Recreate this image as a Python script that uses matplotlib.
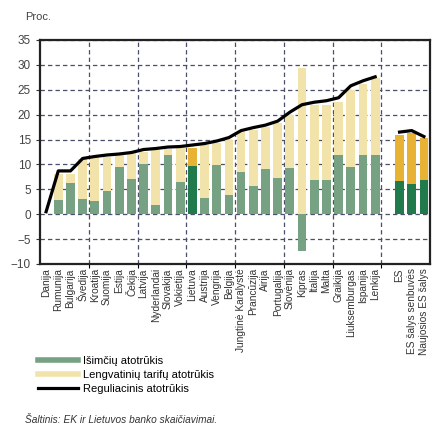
import numpy as np
import matplotlib
matplotlib.use('Agg')
from matplotlib import pyplot as plt
from matplotlib.lines import Line2D

plt.rcParams['font.family'] = ['Liberation Sans Narrow', 'Liberation Sans', 'DejaVu Sans']

# country data (proc.)
salys = ['Danija', 'Rumunija', 'Bulgarija', 'Švedija', 'Kroatija', 'Suomija', 'Estija',
         'Čekija', 'Latvija', 'Nyderlandai', 'Slovakija', 'Vokietija', 'Lietuva', 'Austrija',
         'Vengrija', 'Belgija', 'Jungtinė Karalystė', 'Prancūzija', 'Airija', 'Portugalija',
         'Slovėnija', 'Kipras', 'Italija', 'Malta', 'Graikija', 'Liuksemburgas', 'Ispanija',
         'Lenkija']
isimciu = [0.0, 2.8, 6.3, 3.1, 2.6, 4.7, 9.4, 7.1, 10.1, 1.9, 11.9, 6.5, 9.7, 3.3,
           9.9, 3.9, 8.4, 5.7, 9.1, 7.3, 9.3, -7.4, 6.8, 6.9, 11.9, 9.5, 11.9, 11.9]
lengvatiniu = [0.0, 5.2, 1.7, 7.9, 8.8, 6.8, 2.5, 5.1, 2.5, 11.0, 1.3, 6.8, 3.6, 10.7,
               4.5, 11.1, 8.1, 11.3, 8.4, 11.0, 10.7, 29.3, 15.2, 15.1, 10.7, 15.4, 14.2, 15.4]
reguliacinis = [0.5, 8.7, 8.7, 11.2, 11.6, 11.9, 12.1, 12.4, 13.0, 13.2, 13.5, 13.6, 13.9, 14.2,
                14.7, 15.4, 16.8, 17.4, 17.9, 18.7, 20.5, 22.0, 22.5, 22.8, 23.4, 25.8, 26.8, 27.6]

# EU aggregates
es_grupes = ['ES', 'ES šalys senbuvės', 'Naujosios ES šalys']
es_isimciu = [6.6, 6.1, 6.9]
es_lengvatiniu = [9.3, 10.2, 8.5]
es_reguliacinis = [16.5, 16.8, 15.6]

green = '#76a283'
yellow = '#f1e3a9'
dgreen = '#217a4c'
orange = '#e8b234'

fig = plt.figure(figsize=(4.33, 4.30), dpi=100)
ax = fig.add_axes([40/433, (430-264)/430, 390/433, 224/430])

x = np.arange(len(salys))
xe = np.arange(len(es_grupes)) + len(salys) + 1
w = 0.72

gcol = [dgreen if s == 'Lietuva' else green for s in salys]
ycol = [orange if s == 'Lietuva' else yellow for s in salys]
bot = [max(v, 0) for v in isimciu]
ax.bar(x, isimciu, w, color=gcol, zorder=2)
ax.bar(x, lengvatiniu, w, bottom=bot, color=ycol, zorder=2)
ax.plot(x, reguliacinis, color='black', lw=2.3, zorder=3)

ax.bar(xe, es_isimciu, w, color=dgreen, zorder=2)
ax.bar(xe, es_lengvatiniu, w, bottom=es_isimciu, color=orange, zorder=2)
ax.plot(xe, es_reguliacinis, color='black', lw=2.3, zorder=3)

ax.set_xlim(-0.5, 31.5)
ax.set_ylim(-10, 35)
ax.set_yticks(np.arange(-10, 36, 5))
ax.set_xticks(np.arange(3.5, 31, 4))
ax.set_xticklabels([])
ax.set_xticks(list(x) + list(xe), minor=True)
ax.set_xticklabels(salys + es_grupes, minor=True, rotation=90, fontsize=7.3, va='top',
                   color='#333333')
ax.tick_params(axis='x', which='minor', length=0, pad=3)
ax.tick_params(axis='x', which='major', length=3, direction='out')
ax.tick_params(axis='y', labelsize=8.5, length=3, color='#333333', labelcolor='#444444')
ax.grid(True, which='major', color='#4a4f6a', ls=(0, (3.5, 2.5)), lw=0.9, zorder=0)
for sp in ax.spines.values():
    sp.set_linewidth(1.6)
    sp.set_color('#222222')

fig.text(25/433, 1 - 17/430, 'Proc.', fontsize=8, color='#444444', va='center')

handles = [Line2D([], [], color=green, lw=4),
           Line2D([], [], color=yellow, lw=4),
           Line2D([], [], color='black', lw=2.3)]
labels = ['Išimčių atotrūkis', 'Lengvatinių tarifų atotrūkis', 'Reguliacinis atotrūkis']
fig.legend(handles, labels, loc='upper left', bbox_to_anchor=(38/433, 1 - 356/430),
           frameon=False, fontsize=8, handlelength=3.6, handletextpad=0.45,
           labelspacing=0.35, borderaxespad=0, borderpad=0)

fig.text(25/433, 1 - 420/430, 'Šaltinis: EK ir Lietuvos banko skaičiavimai.', fontsize=7.3,
         style='italic', color='#333333', va='center')

fig.savefig('out.png', dpi=100)
